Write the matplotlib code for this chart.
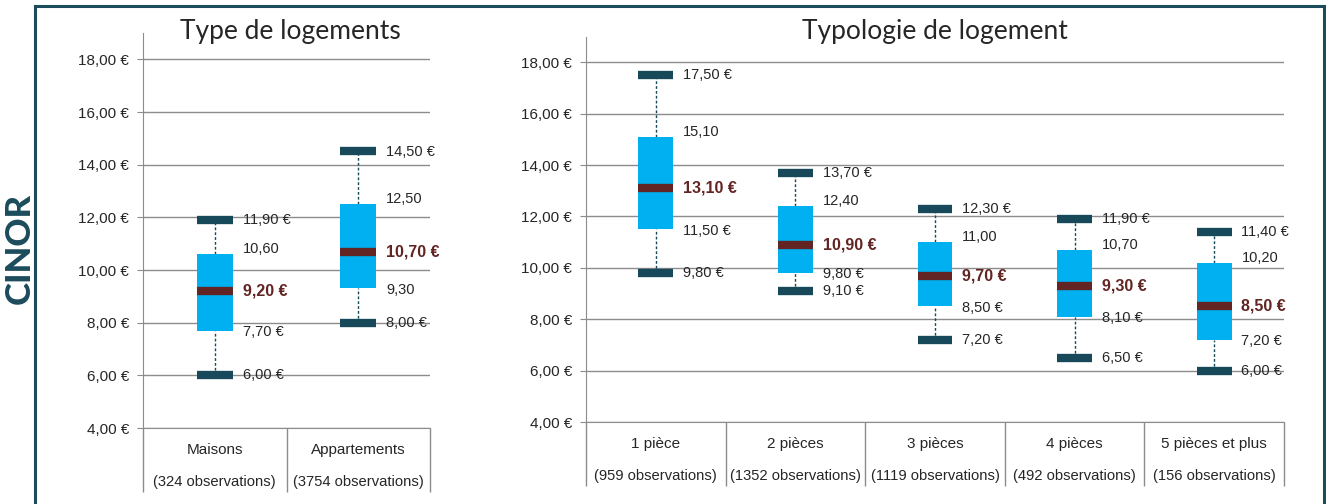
import matplotlib.pyplot as plt
from matplotlib.lines import Line2D

# Données : min, Q1, médiane, Q3, max
types = ['Maisons', 'Appartements']
types_obs = [324, 3754]
types_min = [6.00, 8.00]
types_q1 = [7.70, 9.30]
types_med = [9.20, 10.70]
types_q3 = [10.60, 12.50]
types_max = [11.90, 14.50]
types_q1_euro = [True, False]

pieces = ['1 pièce', '2 pièces', '3 pièces', '4 pièces', '5 pièces et plus']
pieces_obs = [959, 1352, 1119, 492, 156]
pieces_min = [9.80, 9.10, 7.20, 6.50, 6.00]
pieces_q1 = [11.50, 9.80, 8.50, 8.10, 7.20]
pieces_med = [13.10, 10.90, 9.70, 9.30, 8.50]
pieces_q3 = [15.10, 12.40, 11.00, 10.70, 10.20]
pieces_max = [17.50, 13.70, 12.30, 11.90, 11.40]
pieces_q1_euro = [True, True, True, True, True]

yticks = [4, 6, 8, 10, 12, 14, 16, 18]

BOX = '#00B0F0'
CAP = '#17495A'
MED = '#632523'
GRID = '#8C8C8C'
TXT = '#262626'
FRAME = '#1C4C5C'
FONT = 'Liberation Sans'


def fmt(v, euro=True):
    s = f'{v:.2f}'.replace('.', ',')
    return s + ' €' if euro else s


def boxchart(ax, cats, obs, vmin, q1, med, q3, vmax, q1_euro):
    n = len(cats)
    xs = [i + 0.5 for i in range(n)]
    w = 0.25
    ax.set_xlim(0, n)
    ax.set_ylim(4, 19)
    ax.set_yticks(yticks)
    ax.set_yticklabels([fmt(t) for t in yticks], family=FONT, fontsize=11, color=TXT)
    ax.yaxis.grid(True, color=GRID, lw=1)
    ax.set_axisbelow(True)
    for s in ['top', 'right']:
        ax.spines[s].set_visible(False)
    for s in ['left', 'bottom']:
        ax.spines[s].set_color(GRID)
    ax.tick_params(axis='y', length=4, color=GRID, pad=6)

    # séparateurs de catégories sous l'axe
    ax.set_xticks(range(n + 1), minor=True)
    ax.tick_params(axis='x', which='minor', length=46, color=GRID, width=1)
    ax.set_xticks(xs)
    ax.set_xticklabels([])
    ax.tick_params(axis='x', which='major', length=0)
    for x, c, o in zip(xs, cats, obs):
        ax.annotate(c, xy=(x, 0), xycoords=('data', 'axes fraction'), xytext=(0, -16),
                    textcoords='offset points', ha='center', va='center',
                    family=FONT, fontsize=11, color=TXT)
        ax.annotate(f'({o} observations)', xy=(x, 0), xycoords=('data', 'axes fraction'),
                    xytext=(0, -39), textcoords='offset points', ha='center', va='center',
                    family=FONT, fontsize=10.6, color=TXT)

    # moustaches
    ax.vlines(xs, q3, vmax, color=CAP, lw=1, linestyles=(0, (2, 1.5)), zorder=2)
    ax.vlines(xs, vmin, q1, color=CAP, lw=1, linestyles=(0, (2, 1.5)), zorder=2)
    # boîtes
    heights = [b - a for a, b in zip(q1, q3)]
    ax.bar(xs, heights, bottom=q1, width=w, color=BOX, zorder=3)
    # extrémités et médianes
    lefts = [x - w / 2 for x in xs]
    rights = [x + w / 2 for x in xs]
    ax.hlines(vmin, lefts, rights, color=CAP, lw=6, capstyle='butt', zorder=4)
    ax.hlines(vmax, lefts, rights, color=CAP, lw=6, capstyle='butt', zorder=4)
    ax.hlines(med, lefts, rights, color=MED, lw=6, capstyle='butt', zorder=4)

    # étiquettes
    for i, x in enumerate(xs):
        lx = x + w / 2 + 0.07
        kw = dict(ha='left', va='center', family=FONT, fontsize=10.5, color=TXT, zorder=5)
        ax.text(lx, vmax[i], fmt(vmax[i]), **kw)
        ax.text(lx, q3[i] + 0.2, fmt(q3[i], False), **kw)
        ax.text(lx, q1[i] - 0.05, fmt(q1[i], q1_euro[i]), **kw)
        ax.text(lx, vmin[i], fmt(vmin[i]), **kw)
        ax.text(lx, med[i], fmt(med[i]), ha='left', va='center', family=FONT,
                fontsize=11.5, fontweight='bold', color=MED, zorder=5)


fig = plt.figure(figsize=(13.26, 5.04), dpi=100)

ax1 = fig.add_axes([143 / 1326, 1 - 428 / 504, 287 / 1326, 395 / 504])
boxchart(ax1, types, types_obs, types_min, types_q1, types_med, types_q3, types_max, types_q1_euro)

ax2 = fig.add_axes([586 / 1326, 1 - 422 / 504, 698 / 1326, 385.5 / 504])
boxchart(ax2, pieces, pieces_obs, pieces_min, pieces_q1, pieces_med, pieces_q3, pieces_max, pieces_q1_euro)

fig.text(290 / 1326, 1 - 32 / 504, 'Type de logements', ha='center', va='center',
         family='Lato', fontsize=19, color=TXT)
fig.text(935 / 1326, 1 - 32 / 504, 'Typologie de logement', ha='center', va='center',
         family='Lato', fontsize=19, color=TXT)

# cadre
fig.add_artist(Line2D([35 / 1326, 35 / 1326], [0, 1 - 6 / 504], color=FRAME, lw=2.2))
fig.add_artist(Line2D([35 / 1326, 1324 / 1326], [1 - 6 / 504, 1 - 6 / 504], color=FRAME, lw=2.2))
fig.add_artist(Line2D([1324 / 1326, 1324 / 1326], [0, 1 - 6 / 504], color=FRAME, lw=2.2))
fig.text(20 / 1326, 1 - 248 / 504, 'CINOR', rotation=90, ha='center', va='center',
         family='Lato', fontweight='black', fontsize=25, color=FRAME)

fig.savefig('out.png', dpi=100)
